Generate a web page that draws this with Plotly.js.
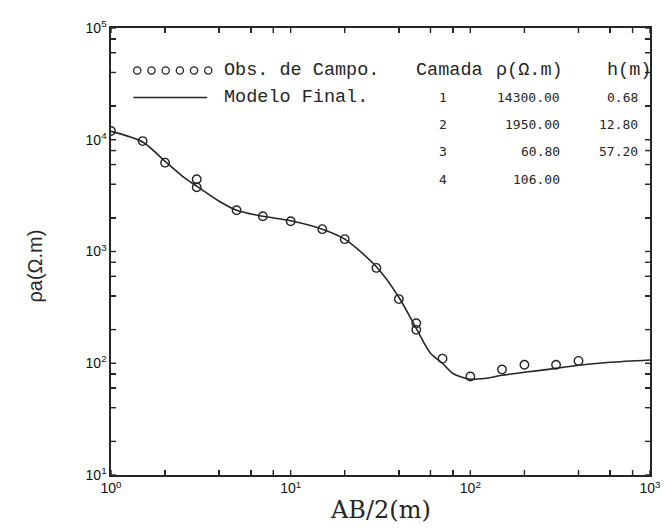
<!DOCTYPE html>
<html>
<head>
<meta charset="utf-8">
<script src="https://cdn.plot.ly/plotly-3.0.1.min.js"></script>
<style>html,body{margin:0;padding:0;background:#fff;}#chart{width:664px;height:529px;}</style>
</head>
<body>
<div id="chart"></div>
<script>
// Observed field data (AB/2 in m, apparent resistivity in ohm.m)
var obsAB2 = [1, 1.5, 2, 3, 3, 5, 7, 10, 15, 20, 30, 40, 50, 50, 70, 100, 150, 200, 300, 400];
var obsRho = [11960, 9730, 6240, 4430, 3760, 2340, 2065, 1865, 1585, 1290, 713, 375, 228, 199, 110, 76, 88, 97, 97, 105];

// Final model curve
var modAB2 = [1, 1.5, 2, 2.5, 3, 4, 5, 7, 10, 15, 20, 30, 40, 50, 60, 70, 80, 100, 120, 150, 200, 300, 400, 600, 1000];
var modRho = [11890, 9550, 6410, 4710, 3840, 2815, 2340, 2065, 1885, 1585, 1290, 730, 390, 205, 123, 100, 81, 72, 73, 78, 83, 90, 96, 102, 107];

// Layer table
var layerNum = [1, 2, 3, 4];
var layerRho = [14300.00, 1950.00, 60.80, 106.00];
var layerH = [0.68, 12.80, 57.20, null];

// Tick labels
var xTickVals = [1, 10, 100, 1000];
var xTickText = ['10<sup>0</sup>', '10<sup>1</sup>', '10<sup>2</sup>', '10<sup>3</sup>'];
var yTickVals = [10, 100, 1000, 10000, 100000];
var yTickText = ['10<sup>1</sup>', '10<sup>2</sup>', '10<sup>3</sup>', '10<sup>4</sup>', '10<sup>5</sup>'];
var minorMult = [2, 4, 6, 8];

var xRangeLog = [0, 3], yRangeLog = [1, 5];
var ink = '#262626';
function withMinor(vals, text) {
  var v = vals.slice(), t = text.slice();
  vals.slice(0, -1).forEach(function (d) {
    minorMult.forEach(function (m) { v.push(m * d); t.push(''); });
  });
  return { v: v, t: t };
}
var xt = withMinor(xTickVals, xTickText);
var yt = withMinor(yTickVals, yTickText);

// pixel -> paper helpers (plot area: x 111..650, y 27.5..475)
var L = 110.7, R = 650, T = 27.5, B = 475;
function px(x) { return (x - L) / (R - L); }
function py(y) { return (B - y) / (B - T); }

var traces = [
  { x: modAB2, y: modRho, mode: 'lines', line: { color: ink, width: 1.6, shape: 'spline', smoothing: 0.8 }, hoverinfo: 'skip' },
  { x: obsAB2, y: obsRho, mode: 'markers', marker: { symbol: 'circle-open', size: 8.5, color: ink, line: { width: 1.4, color: ink } } }
];

var mono = 'Liberation Mono, monospace';
var annotations = [];
function note(x, y, text, anchor, font) {
  annotations.push({ xref: 'paper', yref: 'paper', x: px(x), y: py(y), xanchor: anchor, yanchor: 'middle', text: text, showarrow: false, font: font });
}
var big = { family: mono, size: 18.5, color: ink };
note(222, 70, 'Obs. de Campo.', 'left', big);
note(222, 97, 'Modelo Final.', 'left', big);
note(414, 70, 'Camada', 'left', big);
note(494, 70, '\u03c1(\u03a9.m)', 'left', big);
note(605, 70, 'h(m)', 'left', big);
var rowY = [97, 124, 151, 179];
layerNum.forEach(function (n, i) {
  var f = { family: 'DejaVu Sans Mono, monospace', size: 13, color: ink };
  note(443, rowY[i], String(n), 'center', f);
  note(562, rowY[i], layerRho[i].toFixed(2), 'right', f);
  if (layerH[i] !== null) note(640, rowY[i], layerH[i].toFixed(2), 'right', f);
});
// axis titles
note(380, 510, 'AB/2(m)', 'center', { family: 'DejaVu Serif, serif', size: 24, color: ink });
annotations.push({ xref: 'paper', yref: 'paper', x: px(35), y: py(266), xanchor: 'center', yanchor: 'middle', textangle: -90, text: '\u03c1a(\u03a9.m)', showarrow: false, font: { family: 'Liberation Sans, Arial, sans-serif', size: 20, color: ink } });

var shapes = [];
for (var k = 0; k < 6; k++) {
  var cx = px(137 + k * 14.2);
  shapes.push({ type: 'circle', xref: 'paper', yref: 'paper', xsizemode: 'pixel', ysizemode: 'pixel', xanchor: cx, yanchor: py(70), x0: -3.6, x1: 3.6, y0: -3.6, y1: 3.6, line: { color: ink, width: 1.3 } });
}
shapes.push({ type: 'line', xref: 'paper', yref: 'paper', x0: px(133), x1: px(207), y0: py(97), y1: py(97), line: { color: ink, width: 1.5 } });

// inner tick marks on all four sides, placed at the axis tick values
var tl = 5;
xt.v.forEach(function (v) {
  var f = (Math.log10(v) - xRangeLog[0]) / (xRangeLog[1] - xRangeLog[0]);
  shapes.push({ type: 'line', xref: 'paper', yref: 'paper', ysizemode: 'pixel', yanchor: 0, x0: f, x1: f, y0: 0, y1: tl, line: { color: ink, width: 1.4 } });
  shapes.push({ type: 'line', xref: 'paper', yref: 'paper', ysizemode: 'pixel', yanchor: 1, x0: f, x1: f, y0: 0, y1: -tl, line: { color: ink, width: 1.4 } });
});
yt.v.forEach(function (v) {
  var f = (Math.log10(v) - yRangeLog[0]) / (yRangeLog[1] - yRangeLog[0]);
  shapes.push({ type: 'line', xref: 'paper', yref: 'paper', xsizemode: 'pixel', xanchor: 0, y0: f, y1: f, x0: 0, x1: tl, line: { color: ink, width: 1.4 } });
  shapes.push({ type: 'line', xref: 'paper', yref: 'paper', xsizemode: 'pixel', xanchor: 1, y0: f, y1: f, x0: 0, x1: -tl, line: { color: ink, width: 1.4 } });
});

var tickFont = { family: 'Liberation Sans, Arial, sans-serif', size: 14, color: '#111' };
var layout = {
  width: 664, height: 529,
  margin: { l: 111, r: 14, t: 28, b: 54 },
  paper_bgcolor: '#fff', plot_bgcolor: '#fff',
  showlegend: false,
  xaxis: {
    type: 'log', range: xRangeLog, tickmode: 'array', tickvals: xt.v, ticktext: xt.t,
    ticks: 'inside', ticklen: 5, tickwidth: 1.4, tickcolor: ink, showline: true, linecolor: ink, linewidth: 1.6,
    mirror: 'allticks', showgrid: false, zeroline: false, tickfont: tickFont
  },
  yaxis: {
    type: 'log', range: yRangeLog, tickmode: 'array', tickvals: yt.v, ticktext: yt.t,
    ticks: 'inside', ticklen: 5, tickwidth: 1.4, tickcolor: ink, showline: true, linecolor: ink, linewidth: 1.6,
    mirror: 'allticks', showgrid: false, zeroline: false, tickfont: tickFont
  },
  annotations: annotations,
  shapes: shapes
};

Plotly.newPlot('chart', traces, layout, { staticPlot: true, displayModeBar: false });
</script>
</body>
</html>
